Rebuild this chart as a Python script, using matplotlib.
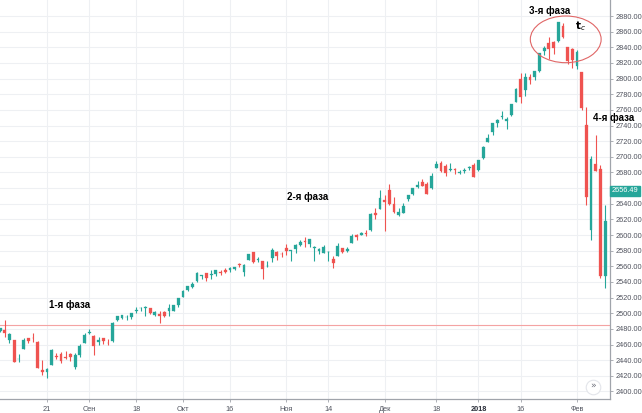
import matplotlib
matplotlib.use("Agg")
import matplotlib.pyplot as plt
from matplotlib.patches import Ellipse
from matplotlib.transforms import blended_transform_factory
import numpy as np

# ---------------- data (daily candles, Aug 7 2017 .. Feb 9 2018) ----------------
dates = [
    "2017-08-07", "2017-08-08", "2017-08-09", "2017-08-10", "2017-08-11",
    "2017-08-14", "2017-08-15", "2017-08-16", "2017-08-17", "2017-08-18",
    "2017-08-21", "2017-08-22", "2017-08-23", "2017-08-24", "2017-08-25",
    "2017-08-28", "2017-08-29", "2017-08-30", "2017-08-31", "2017-09-01",
    "2017-09-05", "2017-09-06", "2017-09-07", "2017-09-08",
    "2017-09-11", "2017-09-12", "2017-09-13", "2017-09-14", "2017-09-15",
    "2017-09-18", "2017-09-19", "2017-09-20", "2017-09-21", "2017-09-22",
    "2017-09-25", "2017-09-26", "2017-09-27", "2017-09-28", "2017-09-29",
    "2017-10-02", "2017-10-03", "2017-10-04", "2017-10-05", "2017-10-06",
    "2017-10-09", "2017-10-10", "2017-10-11", "2017-10-12", "2017-10-13",
    "2017-10-16", "2017-10-17", "2017-10-18", "2017-10-19", "2017-10-20",
    "2017-10-23", "2017-10-24", "2017-10-25", "2017-10-26", "2017-10-27",
    "2017-10-30", "2017-10-31", "2017-11-01", "2017-11-02", "2017-11-03",
    "2017-11-06", "2017-11-07", "2017-11-08", "2017-11-09", "2017-11-10",
    "2017-11-13", "2017-11-14", "2017-11-15", "2017-11-16", "2017-11-17",
    "2017-11-20", "2017-11-21", "2017-11-22", "2017-11-24",
    "2017-11-27", "2017-11-28", "2017-11-29", "2017-11-30", "2017-12-01",
    "2017-12-04", "2017-12-05", "2017-12-06", "2017-12-07", "2017-12-08",
    "2017-12-11", "2017-12-12", "2017-12-13", "2017-12-14", "2017-12-15",
    "2017-12-18", "2017-12-19", "2017-12-20", "2017-12-21", "2017-12-22",
    "2017-12-26", "2017-12-27", "2017-12-28", "2017-12-29",
    "2018-01-02", "2018-01-03", "2018-01-04", "2018-01-05",
    "2018-01-08", "2018-01-09", "2018-01-10", "2018-01-11", "2018-01-12",
    "2018-01-16", "2018-01-17", "2018-01-18", "2018-01-19",
    "2018-01-22", "2018-01-23", "2018-01-24", "2018-01-25", "2018-01-26",
    "2018-01-29", "2018-01-30", "2018-01-31", "2018-02-01", "2018-02-02",
    "2018-02-05", "2018-02-06", "2018-02-07", "2018-02-08", "2018-02-09",
]

opens = [
    2477.1, 2478.4, 2465.4, 2465.4, 2441.0, 2454.0, 2468.7, 2468.6, 2462.9, 2427.6,
    2425.5, 2433.8, 2444.9, 2447.9, 2444.7, 2447.4, 2431.9, 2446.1, 2462.6, 2474.4,
    2470.4, 2463.8, 2468.1, 2462.3, 2465.0, 2491.9, 2493.9, 2494.6, 2495.7,
    2502.5, 2506.3, 2506.8, 2507.2, 2497.3, 2499.4, 2501.0, 2503.3, 2503.4, 2510.4,
    2521.2, 2530.3, 2533.5, 2540.9, 2547.4, 2551.4, 2549.0, 2550.6, 2552.9, 2555.7,
    2555.6, 2557.2, 2562.9, 2553.4, 2567.6, 2578.1, 2568.7, 2566.5, 2560.1, 2570.3,
    2577.8, 2575.9, 2583.2, 2579.5, 2581.9, 2587.5, 2592.1, 2588.7, 2584.0, 2580.2,
    2576.5, 2577.8, 2569.4, 2572.9, 2582.9, 2579.5, 2589.2, 2600.3, 2600.4,
    2602.7, 2605.9, 2627.8, 2633.9, 2645.1, 2657.2, 2639.8, 2626.2, 2628.4, 2646.2,
    2652.2, 2661.7, 2667.6, 2665.9, 2660.6, 2685.9, 2692.7, 2688.2, 2683.0, 2684.2,
    2679.1, 2682.1, 2686.1, 2689.2, 2683.7, 2697.9, 2719.3, 2731.3,
    2742.7, 2751.2, 2745.6, 2753.0, 2770.2, 2799.0, 2785.0, 2802.4, 2802.6,
    2809.2, 2835.1, 2845.4, 2846.2, 2847.5, 2867.2, 2840.0, 2838.0, 2816.5, 2808.9,
    2741.1, 2607.0, 2691.0, 2685.0, 2548.0,
]
highs = [
    2480.9, 2490.9, 2474.4, 2465.4, 2448.1, 2468.2, 2468.9, 2474.9, 2465.0, 2440.3,
    2430.6, 2454.8, 2448.9, 2450.4, 2451.3, 2449.1, 2449.2, 2460.3, 2475.0, 2480.4,
    2471.9, 2469.6, 2468.6, 2467.1, 2488.9, 2496.8, 2498.4, 2498.4, 2500.2,
    2508.3, 2507.8, 2508.9, 2507.2, 2503.5, 2502.5, 2503.5, 2511.8, 2510.8, 2519.4,
    2529.2, 2535.1, 2540.5, 2552.5, 2549.4, 2551.8, 2555.2, 2555.2, 2555.3, 2557.6,
    2559.5, 2559.7, 2564.1, 2562.4, 2575.4, 2578.3, 2572.2, 2567.4, 2567.1, 2582.9,
    2580.0, 2578.0, 2588.4, 2581.1, 2588.4, 2593.4, 2597.0, 2595.5, 2586.5, 2583.8,
    2587.7, 2579.7, 2572.8, 2590.1, 2584.0, 2584.6, 2601.2, 2600.9, 2604.2,
    2606.4, 2627.7, 2634.9, 2657.7, 2650.6, 2665.2, 2648.7, 2634.4, 2641.0, 2651.7,
    2660.3, 2669.7, 2671.9, 2668.1, 2679.6, 2695.0, 2694.4, 2691.0, 2692.6, 2685.4,
    2682.7, 2685.6, 2687.7, 2692.1, 2695.9, 2714.4, 2729.3, 2743.5,
    2748.5, 2759.1, 2750.8, 2767.6, 2787.9, 2807.5, 2807.0, 2805.8, 2810.3,
    2833.0, 2842.2, 2853.0, 2848.6, 2872.9, 2870.6, 2841.0, 2839.3, 2836.0, 2808.9,
    2763.4, 2701.0, 2727.7, 2690.0, 2638.7,
]
lows = [
    2475.9, 2470.3, 2462.1, 2437.8, 2437.9, 2454.0, 2461.6, 2463.5, 2430.0, 2420.7,
    2417.4, 2433.7, 2441.4, 2436.2, 2441.9, 2439.0, 2428.2, 2443.8, 2462.6, 2473.9,
    2446.6, 2459.2, 2460.3, 2459.4, 2463.0, 2490.4, 2492.1, 2491.4, 2493.2,
    2499.9, 2503.2, 2496.7, 2499.0, 2496.5, 2488.0, 2495.1, 2495.9, 2502.9, 2507.8,
    2520.4, 2528.9, 2531.8, 2540.0, 2543.8, 2541.6, 2544.0, 2547.9, 2548.3, 2552.1,
    2552.6, 2554.7, 2559.7, 2547.9, 2567.6, 2564.3, 2565.6, 2544.0, 2559.5, 2565.9,
    2568.7, 2572.2, 2574.9, 2566.2, 2576.8, 2585.7, 2584.4, 2585.0, 2566.3, 2575.6,
    2576.5, 2566.6, 2557.5, 2572.9, 2577.6, 2578.2, 2589.2, 2593.9, 2600.4,
    2598.9, 2605.4, 2620.3, 2633.9, 2605.5, 2639.0, 2627.7, 2624.8, 2628.4, 2644.1,
    2651.5, 2659.8, 2662.9, 2652.0, 2659.1, 2685.9, 2680.7, 2676.1, 2682.4, 2678.1,
    2678.0, 2678.9, 2682.7, 2673.6, 2682.4, 2697.8, 2719.1, 2727.9,
    2737.6, 2747.9, 2736.1, 2752.8, 2769.6, 2768.6, 2778.4, 2792.6, 2798.1,
    2808.1, 2830.6, 2824.8, 2830.9, 2846.2, 2851.5, 2818.3, 2813.0, 2812.7, 2760.0,
    2638.2, 2593.1, 2681.3, 2545.0, 2532.7,
]
closes = [
    2480.9, 2474.9, 2474.0, 2438.2, 2441.3, 2465.8, 2464.6, 2468.1, 2430.0, 2425.5,
    2428.4, 2452.5, 2444.0, 2439.0, 2443.0, 2444.2, 2446.3, 2457.6, 2471.7, 2476.6,
    2457.9, 2465.5, 2465.1, 2461.4, 2488.1, 2496.5, 2498.4, 2495.6, 2500.2,
    2503.9, 2506.7, 2508.2, 2500.6, 2502.2, 2496.7, 2496.8, 2507.0, 2510.1, 2519.4,
    2529.1, 2534.6, 2537.7, 2552.1, 2549.3, 2544.7, 2550.6, 2555.2, 2550.9, 2553.2,
    2557.6, 2559.4, 2561.3, 2562.1, 2575.2, 2565.0, 2569.1, 2557.2, 2560.4, 2581.1,
    2572.8, 2575.3, 2579.4, 2579.9, 2587.8, 2591.1, 2590.6, 2594.4, 2584.6, 2582.3,
    2584.8, 2578.9, 2564.6, 2585.6, 2578.9, 2582.1, 2599.0, 2597.1, 2602.4,
    2601.4, 2627.0, 2626.1, 2647.6, 2642.2, 2639.4, 2629.6, 2629.3, 2637.0, 2651.5,
    2660.0, 2664.1, 2662.9, 2652.0, 2675.8, 2690.2, 2681.5, 2679.3, 2684.6, 2683.3,
    2680.5, 2682.6, 2687.5, 2673.6, 2695.8, 2713.1, 2724.0, 2743.2,
    2747.7, 2751.3, 2748.2, 2767.6, 2786.2, 2776.4, 2802.6, 2798.0, 2810.3,
    2833.0, 2839.1, 2837.5, 2839.3, 2872.9, 2853.5, 2822.4, 2823.8, 2834.0, 2762.1,
    2648.9, 2697.0, 2681.7, 2548.0, 2618.0,
]

tick_dates = ["2017-08-21", "2017-09-01", "2017-09-18", "2017-10-02", "2017-10-16",
              "2017-11-01", "2017-11-14", "2017-12-01", "2017-12-18", "2018-01-02",
              "2018-01-16", "2018-02-01"]
tick_labels = ["21", "Сен", "18", "Окт", "16", "Ноя", "14", "Дек", "18", "2018", "16", "Фев"]

y_ticks = list(range(2400, 2881, 20))
ref_level = 2485.0
last_price = 2656.49
phase_labels = ["1-я фаза", "2-я фаза", "3-я фаза", "4-я фаза"]

# ---------------- drawing ----------------
UP = "#26a69a"
DOWN = "#ef5350"
GRID = "#eef0f3"
AXC = "#a0a4ab"
TXT = "#50535e"

fig = plt.figure(figsize=(6.42, 4.13), dpi=100)
fig.patch.set_facecolor("white")
ax = fig.add_axes([0, 1 - 399 / 413, 610 / 642, 399 / 413])

x = np.arange(len(dates))
o = np.array(opens); h = np.array(highs); l = np.array(lows); c = np.array(closes)
cols = np.where(c >= o, UP, DOWN)

ax.set_xlim(-0.02, 130.04)
ax.set_ylim(2390.4, 2900.5)

# grid
tick_idx = [dates.index(d) for d in tick_dates]
for t in tick_idx:
    ax.axvline(t, color=GRID, lw=0.8, zorder=0)
for yv in y_ticks:
    ax.axhline(yv, color=GRID, lw=0.8, zorder=0)

# reference level
ax.axhline(ref_level, color="#f4a3a3", lw=0.8, zorder=1)

# candles
ax.vlines(x, l, h, colors=cols, lw=0.8, zorder=2)
body_bottom = np.minimum(o, c)
body_h = np.maximum(np.abs(c - o), 0.8)
ax.bar(x, body_h, bottom=body_bottom, width=0.6, color=cols, edgecolor=cols,
       linewidth=0.2, zorder=3)

# axes styling
for s in ["top", "left"]:
    ax.spines[s].set_visible(False)
ax.spines["right"].set_color(AXC)
ax.spines["bottom"].set_color(AXC)
ax.spines["right"].set_linewidth(0.9)
ax.spines["bottom"].set_linewidth(0.9)

# the 2660 label is hidden behind the last-price box in the reference
ylabels = ["" if abs(v - last_price) < 8 else f"{v:.2f}" for v in y_ticks]
ax.yaxis.tick_right()
ax.set_yticks(y_ticks)
ax.set_yticklabels(ylabels)
ax.set_xticks(tick_idx)
ax.set_xticklabels(tick_labels)
ax.tick_params(axis="y", right=True, left=False, length=2.5, width=0.6, color=AXC,
               pad=1.5, labelsize=5.3, labelcolor=TXT)
ax.tick_params(axis="x", length=2, width=0.6, color=AXC, pad=3,
               labelsize=5.3, labelcolor=TXT)
for lab in ax.get_yticklabels() + ax.get_xticklabels():
    lab.set_fontfamily(["Liberation Sans", "DejaVu Sans"])
for lab in ax.get_xticklabels():
    if lab.get_text() == "2018":
        lab.set_fontweight("bold")
        lab.set_color("#2a2e39")

# last price label
trans = blended_transform_factory(ax.transAxes, ax.transData)
ax.text(1.003, last_price, f"{last_price:.2f}", transform=trans, ha="left", va="center",
        fontsize=5.3, color="white", family=["Liberation Sans", "DejaVu Sans"],
        bbox=dict(boxstyle="square,pad=0.25", fc=UP, ec=UP), clip_on=False, zorder=10)

# phase annotations
fam = ["Liberation Sans", "DejaVu Sans"]
ann = dict(fontsize=7.0, fontweight="bold", color="black", ha="center", va="center",
           family=fam, clip_on=False, zorder=12)
ax.text(14.9, 2510.6, phase_labels[0], **ann)
ax.text(65.6, 2648.6, phase_labels[1], **ann)
ax.text(117.2, 2886.4, phase_labels[2], **ann)
ax.text(130.9, 2749.3, phase_labels[3], **ann)
ax.text(123.8, 2867.0, r"$\mathbf{t}_{c}$", fontsize=7.5, color="black",
        ha="center", va="center", zorder=12)

# ellipse around phase 3
ax.add_patch(Ellipse((120.6, 2850.2), 15.1, 59.7, fill=False, ec="#e06666",
                     lw=0.8, zorder=11))

# scroll button
ax.scatter([126.4], [2405.8], s=110, marker="o", facecolor="white",
           edgecolor="#e3e5ea", linewidth=0.8, zorder=9, clip_on=False)
ax.text(126.4, 2406.3, "»", fontsize=6.5, color="#6a6d78", ha="center", va="center",
        zorder=10)

fig.savefig("out.png", dpi=100, facecolor="white")
